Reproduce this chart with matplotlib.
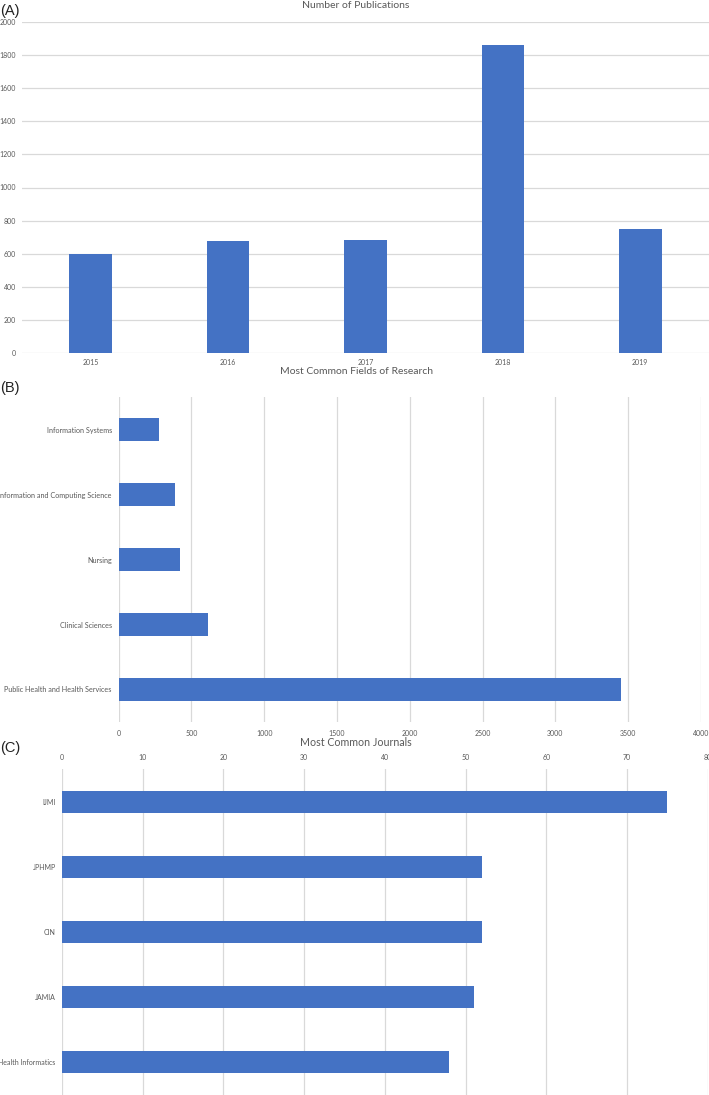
import matplotlib
matplotlib.use("Agg")
import matplotlib.pyplot as plt

# ---- data ----
years = ["2015", "2016", "2017", "2018", "2019"]
publications = [600, 675, 680, 1860, 750]

fields = ["Information Systems", "Information and Computing Science", "Nursing",
          "Clinical Sciences", "Public Health and Health Services"]
field_counts = [275, 385, 420, 610, 3450]

journals = ["IJMI", "JPHMP", "CIN", "JAMIA", "Health Informatics"]
journal_counts = [75, 52, 52, 51, 48]

BAR = "#4472C4"
GRID = "#d9d9d9"
TXT = "#595959"
FONT = ["Lato", "DejaVu Sans"]
plt.rcParams["font.family"] = FONT

W, H = 709, 1095
fig = plt.figure(figsize=(W / 100, H / 100), dpi=100)


def rect(x0, x1, ytop, ybot):
    return [x0 / W, 1 - ybot / H, (x1 - x0) / W, (ybot - ytop) / H]


def clean(ax, size=5.0):
    for s in ax.spines.values():
        s.set_visible(False)
    ax.tick_params(length=0, labelsize=size, labelcolor=TXT)
    ax.set_axisbelow(True)


# ---- Panel A ----
axA = fig.add_axes(rect(22, 709, 22, 353))
clean(axA)
xa = list(range(len(years)))
axA.bar(xa, publications, width=0.31, color=BAR, zorder=3)
axA.set_xlim(-0.5, len(years) - 0.5)
axA.set_ylim(0, 2000)
axA.set_yticks(range(0, 2001, 200))
axA.set_xticks(xa)
axA.set_xticklabels(years)
axA.yaxis.grid(True, color=GRID, lw=0.9)
axA.tick_params(axis="y", pad=4.5)
axA.tick_params(axis="x", pad=4)

# ---- Panel B ----
axB = fig.add_axes(rect(118.7, 701, 397, 722))
clean(axB)
yb = list(range(len(fields)))
axB.barh(yb, field_counts, height=0.35, color=BAR, zorder=3)
axB.set_ylim(len(fields) - 0.5, -0.5)
axB.set_xlim(0, 4000)
axB.set_xticks(range(0, 4001, 500))
axB.set_yticks(yb)
axB.set_yticklabels(fields, fontsize=5.2)
axB.xaxis.grid(True, color=GRID, lw=0.9)
axB.tick_params(axis="y", pad=5)
axB.tick_params(axis="x", pad=5.5)

# ---- Panel C ----
axC = fig.add_axes(rect(62, 707.6, 769, 1095))
clean(axC)
yc = list(range(len(journals)))
axC.barh(yc, journal_counts, height=0.34, color=BAR, zorder=3)
axC.set_ylim(len(journals) - 0.5, -0.5)
axC.set_xlim(0, 80)
axC.set_xticks(range(0, 81, 10))
axC.set_yticks(yc)
axC.set_yticklabels(journals, fontsize=5.0)
axC.xaxis.tick_top()
axC.xaxis.grid(True, color=GRID, lw=0.9)
axC.tick_params(axis="y", pad=4.5)
axC.tick_params(axis="x", pad=6)

# ---- titles and panel labels ----
def ftext(x, y, s, **kw):
    fig.text(x / W, 1 - y / H, s, **kw)

ftext(356, 6, "Number of Publications", ha="center", va="center", fontsize=7.5, color=TXT)
ftext(356, 372, "Most Common Fields of Research", ha="center", va="center", fontsize=7.5, color=TXT)
ftext(356, 742, "Most Common Journals", ha="center", va="center", fontsize=7.7, color=TXT)

for lab, y in [("(A)", 11), ("(B)", 388), ("(C)", 748)]:
    ftext(0, y, lab, ha="left", va="center", fontsize=10.5,
          family=["Liberation Sans", "DejaVu Sans"], color="#222222")

fig.savefig("out.png", dpi=100)
